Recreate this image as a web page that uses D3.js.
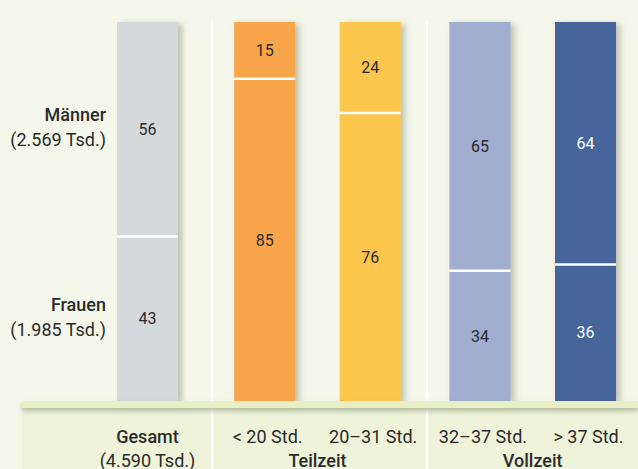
<!DOCTYPE html>
<html>
<head>
<meta charset="utf-8">
<script src="https://cdn.jsdelivr.net/npm/d3@7"></script>
<style>
  body { margin: 0; background: #f5f7ea; }
  svg { display: block; font-family: Roboto, "DejaVu Sans", sans-serif; }
</style>
</head>
<body>
<div id="chart"></div>
<script>
// Data (Anteile in %)
var categories = ["Gesamt", "< 20 Std.", "20–31 Std.", "32–37 Std.", "> 37 Std."];
var groups = ["Gesamt", "Teilzeit", "Vollzeit"];
var groupOf = [0, 1, 1, 2, 2];
var maenner = [56, 15, 24, 65, 64];
var frauen = [43, 85, 76, 34, 36];
var barColors = ["#d4d9dc", "#f9a54a", "#fdc64e", "#a0adcf", "#44659b"];
var textColors = ["#2b2b2b", "#2b2b2b", "#2b2b2b", "#2b2b2b", "#fff"];
var rowLabels = [["Männer", "(2.569 Tsd.)"], ["Frauen", "(1.985 Tsd.)"]];
var gesamtSub = "(4.590 Tsd.)";

var svgWidth = 638;
var svgHeight = 469;
var yTop = 22, yBottom = 401, barW = 61;
var groupShift = [0, 0.11, 0.15]; // extra space before each group (in slots)
var ink = "#2b2b2b";

var svg = d3.select("#chart")
  .append("svg")
  .attr("width", svgWidth)
  .attr("height", svgHeight);

var defs = svg.append("defs");
var sh = defs.append("filter").attr("id", "barShadow")
  .attr("x", "-20%").attr("y", "-5%").attr("width", "160%").attr("height", "110%");
sh.append("feDropShadow").attr("dx", 4).attr("dy", 2).attr("stdDeviation", 3)
  .attr("flood-color", "#8d9478").attr("flood-opacity", 0.55);
var sh2 = defs.append("filter").attr("id", "stripShadow")
  .attr("x", "-5%").attr("y", "-50%").attr("width", "110%").attr("height", "300%");
sh2.append("feDropShadow").attr("dx", 0).attr("dy", 3).attr("stdDeviation", 2.5)
  .attr("flood-color", "#8d9478").attr("flood-opacity", 0.6);

// slot position with extra space between groups
var slot = categories.map((c, i) => i + groupShift[groupOf[i]]);
var x = d3.scaleLinear()
  .domain([0, d3.max(slot)])
  .range([147.5, 585.5]);

// bottom panel
svg.append("rect")
  .attr("x", 22).attr("y", yBottom).attr("width", svgWidth - 22).attr("height", svgHeight - yBottom)
  .attr("fill", "#eef3da");

// group separators
var seps = [x((slot[0] + slot[1]) / 2) + 6, x((slot[2] + slot[3]) / 2) + 2];
svg.selectAll(".sep")
  .data(seps)
  .enter()
  .append("line")
  .attr("x1", d => d).attr("x2", d => d)
  .attr("y1", yTop - 1).attr("y2", svgHeight)
  .attr("stroke", "#fff").attr("stroke-width", 2.5);

// bars
var barData = categories.map((c, i) => ({
  cat: c, m: maenner[i], f: frauen[i], color: barColors[i], tc: textColors[i], cx: x(slot[i])
}));

var barG = svg.selectAll(".bar")
  .data(barData)
  .enter()
  .append("g")
  .attr("class", "bar");

barG.append("rect")
  .attr("x", d => d.cx - barW / 2)
  .attr("y", yTop)
  .attr("width", barW)
  .attr("height", yBottom - yTop)
  .attr("fill", d => d.color)
  .attr("filter", "url(#barShadow)");

barG.each(function(d) {
  var y = d3.scaleLinear().domain([0, d.m + d.f]).range([yTop, yBottom]);
  var g = d3.select(this);
  g.append("line")
    .attr("x1", d.cx - barW / 2).attr("x2", d.cx + barW / 2)
    .attr("y1", y(d.m)).attr("y2", y(d.m))
    .attr("stroke", "#fff").attr("stroke-width", 2.5);
  g.append("text")
    .attr("x", d.cx).attr("y", (y(0) + y(d.m)) / 2)
    .attr("dy", "0.35em")
    .attr("text-anchor", "middle")
    .attr("font-size", 16)
    .attr("fill", d.tc)
    .text(d.m);
  g.append("text")
    .attr("x", d.cx).attr("y", (y(d.m) + y(d.m + d.f)) / 2)
    .attr("dy", "0.35em")
    .attr("text-anchor", "middle")
    .attr("font-size", 16)
    .attr("fill", d.tc)
    .text(d.f);
});

// light strip on top of the panel
svg.append("rect")
  .attr("x", 22).attr("y", yBottom).attr("width", svgWidth - 22).attr("height", 7)
  .attr("fill", "#e8efc4")
  .attr("filter", "url(#stripShadow)");

// row labels on the left
var y0 = d3.scaleLinear().domain([0, maenner[0] + frauen[0]]).range([yTop, yBottom]);
var rowY = [(y0(0) + y0(maenner[0])) / 2, (y0(maenner[0]) + y0(maenner[0] + frauen[0])) / 2];
rowLabels.forEach(function(lab, i) {
  svg.append("text")
    .attr("x", 106).attr("y", rowY[i] - 8)
    .attr("text-anchor", "end")
    .attr("font-size", 18).attr("font-weight", 500)
    .attr("fill", ink)
    .text(lab[0]);
  svg.append("text")
    .attr("x", 106).attr("y", rowY[i] + 17)
    .attr("text-anchor", "end")
    .attr("font-size", 18)
    .attr("fill", ink)
    .text(lab[1]);
});

// bottom category labels
svg.selectAll(".cat")
  .data(barData)
  .enter()
  .append("text")
  .attr("x", d => d.cx + (d.cat === "Gesamt" ? 0 : 3))
  .attr("y", 443)
  .attr("text-anchor", "middle")
  .attr("font-size", 18)
  .attr("font-weight", d => d.cat === "Gesamt" ? 500 : 400)
  .attr("fill", ink)
  .text(d => d.cat);

svg.append("text")
  .attr("x", barData[0].cx).attr("y", 467)
  .attr("text-anchor", "middle")
  .attr("font-size", 18)
  .attr("fill", ink)
  .text(gesamtSub);

// group labels
[1, 2].forEach(function(gi) {
  var idx = categories.map((c, i) => i).filter(i => groupOf[i] === gi);
  var cx = d3.mean(idx, i => barData[i].cx);
  svg.append("text")
    .attr("x", cx).attr("y", 467)
    .attr("text-anchor", "middle")
    .attr("font-size", 18).attr("font-weight", 500)
    .attr("fill", ink)
    .text(groups[gi]);
});
</script>
</body>
</html>
